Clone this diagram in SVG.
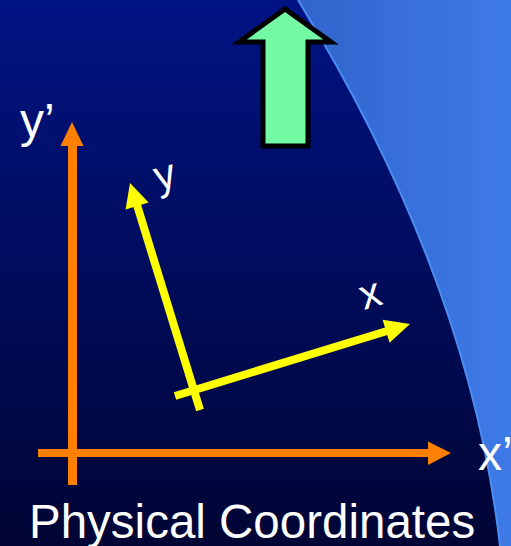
<svg xmlns="http://www.w3.org/2000/svg" width="511" height="546" viewBox="0 0 511 546">
<defs>
<linearGradient id="bg" x1="0" y1="0" x2="0" y2="1">
<stop offset="0" stop-color="#001383"/>
<stop offset="1" stop-color="#000534"/>
</linearGradient>
<linearGradient id="blue" x1="0" y1="0" x2="1" y2="0">
<stop offset="0" stop-color="#3264cc"/>
<stop offset="1" stop-color="#3e7ae6"/>
</linearGradient>
<style>
.lbl{font-family:"Liberation Sans",Arial,sans-serif;fill:#ffffff}
.or{fill:#ff7f00}
.ye{fill:#ffff00}
</style>
</defs>
<rect width="511" height="546" fill="url(#bg)"/>
<path d="M298,0 Q470,280 500,546 L511,546 L511,0 Z" fill="url(#blue)"/>
<path d="M298,0 Q470,280 500,546" fill="none" stroke="#4a8ef5" stroke-width="2"/>
<g id="green-arrow">
<path d="M285,9 L331,42 L308,42 L308,146 L263,146 L263,42 L239,42 Z" fill="#74f9a4" stroke="#000000" stroke-width="5"/>
</g>
<g id="connectors">
<g id="y-prime-axis">
<rect x="68" y="140" width="9" height="345" class="or"/>
<polygon points="72,122 60.5,146 83.5,146" class="or"/>
</g>
<g id="x-prime-axis">
<rect x="38" y="449" width="392" height="8" class="or"/>
<polygon points="451,453 428,441.5 428,465" class="or"/>
</g>
<g id="y-axis">
<line x1="200" y1="410" x2="137" y2="205" stroke="#ffff00" stroke-width="8"/>
<polygon points="130,183 148.6,202.4 125.6,209.4" class="ye"/>
</g>
<g id="x-axis">
<line x1="175" y1="396" x2="387" y2="331" stroke="#ffff00" stroke-width="8"/>
<polygon points="410,324 389.6,342.8 382.6,319.8" class="ye"/>
</g>
</g>
<g id="labels">
<text class="lbl" x="20" y="137" font-size="48">y’</text>
<text class="lbl" font-size="42" transform="translate(158,191) rotate(-15)">y</text>
<text class="lbl" font-size="42" transform="translate(364,310) rotate(-17)">x</text>
<text class="lbl" x="478" y="470" font-size="48">x’</text>
<text class="lbl" x="29" y="538" font-size="47.5">Physical Coordinates</text>
</g>
</svg>
